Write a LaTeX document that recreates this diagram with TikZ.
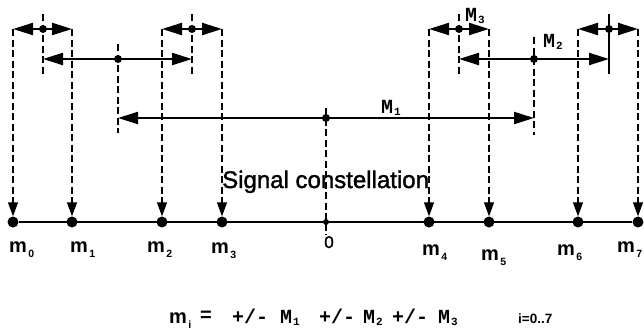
\documentclass[tikz,border=0pt]{standalone}
\usepackage{fontspec}
\setmainfont{Liberation Sans}
\setmonofont{Liberation Mono}
\newfontfamily\titlefont{Liberation Sans}[FakeBold=1.5]
\usetikzlibrary{arrows.meta}
\newcommand\mysub[1]{\hspace{1.5pt}\raisebox{-5pt}{\fontsize{10.5}{10.5}\selectfont #1}}
\newcommand\mysubM[1]{\hspace{1pt}\raisebox{-2pt}{\fontsize{11}{11}\selectfont #1}}
\begin{document}
\begin{tikzpicture}[x=1pt,y=-1pt,
  sol/.style={line width=2.2pt},
  dsh/.style={line width=1.1pt, dash pattern=on 7pt off 3.5pt},
  harr/.style={sol, {Triangle[length=20pt,width=12pt]}-{Triangle[length=20pt,width=12pt]}},
  varr/.style={dsh, -{Triangle[length=14pt,width=10pt]}},
  bigdot/.style={circle, fill, inner sep=0pt, minimum size=11pt},
  middot/.style={circle, fill, inner sep=0pt, minimum size=8pt},
  smalldot/.style={circle, fill, inner sep=0pt, minimum size=6pt},
  mlab/.style={font=\fontsize{20}{20}\selectfont\bfseries, anchor=base west, inner sep=0pt},
  Mlab/.style={font=\fontsize{20}{20}\selectfont\ttfamily\bfseries, anchor=base west, inner sep=0pt},
]
\useasboundingbox (0,0) rectangle (644,333);

% constellation points on the axis
\node[bigdot] (m0) at (13,222) {};
\node[bigdot] (m1) at (72,222) {};
\node[bigdot] (m2) at (162,222) {};
\node[bigdot] (m3) at (222,222) {};
\node[smalldot] (z) at (326,222) {};
\node[bigdot] (m4) at (429,222) {};
\node[bigdot] (m5) at (489,222) {};
\node[bigdot] (m6) at (578,222) {};
\node[bigdot] (m7) at (638,222) {};
\draw[sol] (m0) -- (m7);

% tops of the down arrows (row 1)
\coordinate (t0) at (13,29);
\coordinate (t1) at (72,29);
\coordinate (t2) at (162,29);
\coordinate (t3) at (222,29);
\coordinate (t4) at (429,29);
\coordinate (t5) at (489,29);
\coordinate (t6) at (578,29);
\coordinate (t7) at (638,29);
\foreach \i in {0,...,7} {\draw[varr] (t\i) -- (m\i.north);}

% row 1 (M3)
\draw[harr] (t0) -- (t1);
\draw[harr] (t2) -- (t3);
\draw[harr] (t4) -- (t5);
\draw[harr] (t6) -- (t7);
\coordinate (a1) at (43,14);  \coordinate (b1) at (43,74);
\coordinate (a2) at (192,14); \coordinate (b2) at (192,74);
\coordinate (a3) at (459,14); \coordinate (b3) at (459,74);
\coordinate (a4) at (609,14); \coordinate (b4) at (609,74);
\draw[dsh] (a1) -- (b1);
\draw[dsh] (a2) -- (b2);
\draw[dsh] (a3) -- (b3);
\draw[line width=1.1pt] (a4) -- (b4);
\node[middot] (c1) at (43,29) {};
\node[middot] (c2) at (192,29) {};
\node[middot] (c3) at (459,29) {};
\node[middot] (c4) at (609,29) {};

% row 2 (M2)
\coordinate (r2a) at (43,59);  \coordinate (r2b) at (192,59);
\coordinate (r2c) at (459,59); \coordinate (r2d) at (609,59);
\draw[harr] (r2a) -- (r2b);
\draw[harr] (r2c) -- (r2d);
\coordinate (a5) at (118,44); \coordinate (b5) at (118,133);
\coordinate (a6) at (534,37); \coordinate (b6) at (534,135);
\draw[dsh] (a5) -- (b5);
\draw[dsh] (a6) -- (b6);
\node[middot] (c5) at (118,59) {};
\node[middot] (c6) at (534,59) {};

% row 3 (M1)
\coordinate (r3a) at (118,118); \coordinate (r3b) at (534,118);
\draw[harr] (r3a) -- (r3b);
\coordinate (a7) at (326,108); \coordinate (b7) at (326,235);
\draw[dsh] (a7) -- (b7);
\node[middot] (c7) at (326,118) {};

% M labels
\node[Mlab] (M3) at (465,21) {M\mysubM{3}};
\node[Mlab] (M2) at (543,47) {M\mysubM{2}};
\node[Mlab] (M1) at (381,113) {M\mysubM{1}};

% title
\node[font=\fontsize{24}{24}\selectfont\titlefont, anchor=base west, inner sep=0pt] (title) at (222,188) {Signal constellation};

% point labels
\node[mlab] (l0) at (9,252) {m\mysub{0}};
\node[mlab] (l1) at (70,252) {m\mysub{1}};
\node[mlab] (l2) at (147,252) {m\mysub{2}};
\node[mlab] (l3) at (211,253) {m\mysub{3}};
\node[font=\fontsize{17}{17}\selectfont\titlefont, anchor=base, inner sep=0pt] (lz) at (329,248) {0};
\node[mlab] (l4) at (422,255) {m\mysub{4}};
\node[mlab] (l5) at (481,260) {m\mysub{5}};
\node[mlab] (l6) at (557,255) {m\mysub{6}};
\node[mlab] (l7) at (617,252) {m\mysub{7}};

% formula
\node[mlab] (fm) at (169,323) {m\mysub{i}};
\node[mlab] (feq) at (200,321) {=};
\node[Mlab] (fp1) at (232,323) {+/-};
\node[Mlab] (fM1) at (280,323) {M\mysubM{1}};
\node[Mlab] (fp2) at (319,323) {+/-};
\node[Mlab] (fM2) at (363,323) {M\mysubM{2}};
\node[Mlab] (fp3) at (392,323) {+/-};
\node[Mlab] (fM3) at (438,323) {M\mysubM{3}};
\node[font=\fontsize{13.5}{13.5}\selectfont\bfseries, anchor=base west, inner sep=0pt] (frange) at (518,323) {i=0..7};
\end{tikzpicture}
\end{document}
